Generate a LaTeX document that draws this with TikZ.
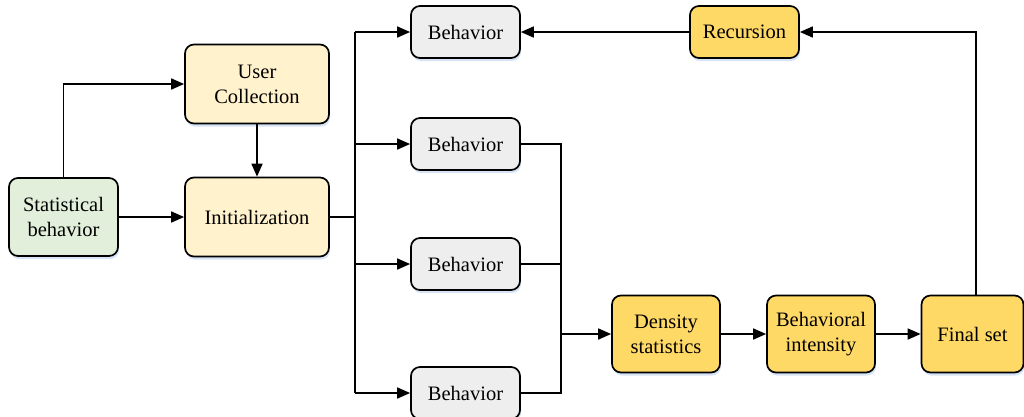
\documentclass[tikz,border=0pt]{standalone}
\usepackage{fontspec}
\setmainfont{Liberation Serif}
\usetikzlibrary{arrows.meta,shadows}
\definecolor{greenfill}{HTML}{E2EFDA}
\definecolor{creamfill}{HTML}{FFF2CC}
\definecolor{grayfill}{HTML}{EEEEEE}
\definecolor{goldfill}{HTML}{FFD966}
\definecolor{shadowblue}{HTML}{D6E4F5}
\begin{document}
\begin{tikzpicture}[x=1pt,y=-1pt,
  box/.style={draw=black, line width=1.7pt, rounded corners=9pt, align=center,
    font=\fontsize{20.5}{25}\selectfont, inner sep=0pt,
    drop shadow={shadow xshift=1pt, shadow yshift=-3pt, fill=shadowblue, opacity=1}},
  bigbox/.style={box, minimum width=144pt, minimum height=79pt},
  smallbox/.style={box, minimum width=109pt, minimum height=52pt},
  tallbox/.style={box, minimum width=108pt, minimum height=77pt},
  link/.style={line width=1.7pt},
  arr/.style={link, -{Triangle[length=13pt,width=11pt]}}]
\useasboundingbox (0,0) rectangle (1024,416);

% left part
\node[box, fill=greenfill, minimum width=109pt, minimum height=78pt] (stat) at (63.5,217) {Statistical\\behavior};
\node[bigbox, fill=creamfill] (user) at (257,84) {User\\Collection};
\node[bigbox, fill=creamfill] (init) at (257,217) {Initialization};

% behaviors
\node[smallbox, fill=grayfill] (b1) at (465.5,32) {Behavior};
\node[smallbox, fill=grayfill] (b2) at (465.5,144) {Behavior};
\node[smallbox, fill=grayfill] (b3) at (465.5,264) {Behavior};
\node[smallbox, fill=grayfill] (b4) at (465.5,393) {Behavior};

% right chain
\node[tallbox, fill=goldfill] (dens) at (666,334) {Density\\statistics};
\node[tallbox, fill=goldfill] (inten) at (821,334) {Behavioral\\intensity};
\node[box, fill=goldfill, minimum width=102pt, minimum height=77pt] (final) at (972.5,334) {Final set};
\node[smallbox, fill=goldfill] (rec) at (744.5,32) {Recursion};

% junction points
\coordinate (split) at (355,217);
\coordinate (merge) at (561,334);

% connectors
\draw[arr] (stat.north) |- (user.west);
\draw[arr] (stat.east) -- (init.west);
\draw[arr] (user.south) -- (init.north);

\draw[link] (init.east) -- (split);
\draw[link] (split |- b1.west) -- (split |- b4.west);
\foreach \b in {b1,b2,b3,b4}
  \draw[arr] (split |- \b.west) -- (\b.west);

\draw[link] (b2.east) -| (merge);
\draw[link] (b4.east) -| (merge);
\draw[link] (b3.east) -- (merge |- b3.east);
\draw[arr] (merge) -- (dens.west);
\draw[arr] (dens.east) -- (inten.west);
\draw[arr] (inten.east) -- (final.west);

\draw[arr] (976,295) |- (rec.east);
\draw[arr] (rec.west) -- (b1.east);
\end{tikzpicture}
\end{document}
